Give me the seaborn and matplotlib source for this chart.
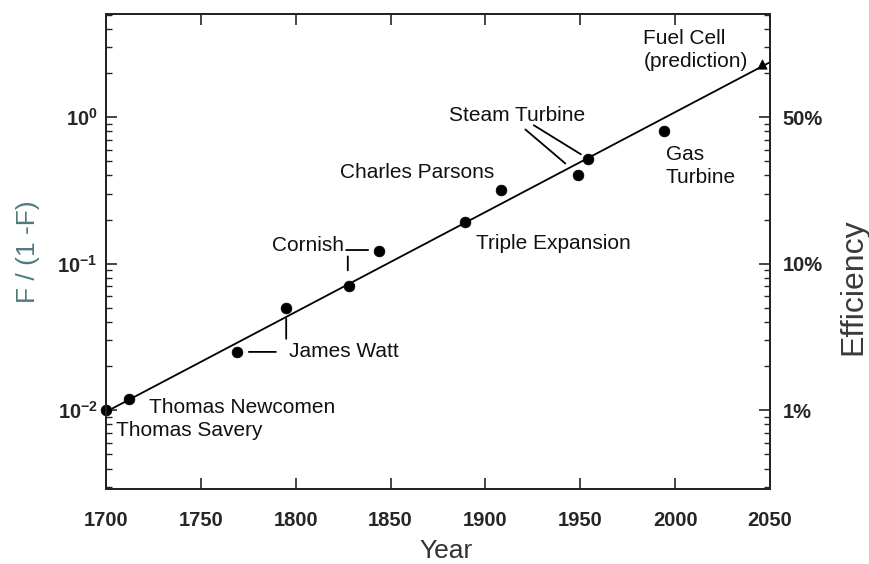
import matplotlib
matplotlib.use("Agg")
import matplotlib.pyplot as plt
import seaborn as sns
from matplotlib.transforms import offset_copy
from matplotlib.ticker import FixedLocator, LogLocator, NullFormatter

# ---------------- data ----------------
years = [1700, 1712, 1769, 1795, 1828, 1844, 1889, 1908, 1949, 1954, 1994]
ratio = [0.010, 0.012, 0.025, 0.050, 0.070, 0.122, 0.192, 0.318, 0.40, 0.516, 0.80]
pred_year = [2046]
pred_ratio = [2.30]
trend_years = [1703.5, 2050]
trend_ratio = [0.0103, 2.37]
x_ticks = [1700, 1750, 1800, 1850, 1900, 1950, 2000, 2050]
y_ticks = [0.01, 0.1, 1.0]
eff_ticks = [0.01, 0.1, 1.0]
eff_labels = ["1%", "10%", "50%"]

# ---------------- style ----------------
sns.set_style("ticks")
plt.rcParams["font.family"] = ["Liberation Sans", "DejaVu Sans"]
plt.rcParams["mathtext.fontset"] = "custom"
plt.rcParams["mathtext.rm"] = "Liberation Sans:bold"
plt.rcParams["mathtext.default"] = "rm"

fig = plt.figure(figsize=(8.7, 5.64), dpi=100)
fig.patch.set_facecolor("white")
ax = fig.add_axes([0.1218, 0.133, 0.7632, 0.842])

sns.lineplot(x=trend_years, y=trend_ratio, ax=ax, color="black", lw=1.3)
sns.scatterplot(x=years, y=ratio, ax=ax, color="black", s=60, edgecolor="black",
                linewidth=0.5, zorder=5, clip_on=False)
sns.scatterplot(x=pred_year, y=pred_ratio, ax=ax, color="black", marker="^", s=45,
                edgecolor="black", linewidth=0.5, zorder=5, clip_on=False)

ax.set_yscale("log")
ax.set_xlim(1700, 2050)
ax.set_ylim(0.0029, 5.05)
ax.set_xticks(x_ticks)
ax.yaxis.set_major_locator(FixedLocator(y_ticks))
ax.yaxis.set_minor_locator(LogLocator(base=10, subs=range(2, 10)))
ax.yaxis.set_minor_formatter(NullFormatter())

ax.tick_params(axis="x", which="major", direction="in", top=True, length=8, width=1.2,
               labelsize=14.5, pad=16)
ax.tick_params(axis="y", which="major", direction="in", right=False, length=8, width=1.2,
               labelsize=14.5, pad=6)
ax.tick_params(axis="y", which="minor", direction="in", right=False, length=4, width=1.0)
for lab in ax.get_xticklabels() + ax.get_yticklabels():
    lab.set_fontweight("bold")
for sp in ax.spines.values():
    sp.set_linewidth(1.3)
    sp.set_color("black")

ax2 = ax.twinx()
ax2.set_yscale("log")
ax2.set_ylim(0.0029, 5.05)
ax2.yaxis.set_major_locator(FixedLocator(eff_ticks))
ax2.set_yticklabels(eff_labels)
ax2.yaxis.set_minor_locator(LogLocator(base=10, subs=range(2, 10)))
ax2.yaxis.set_minor_formatter(NullFormatter())
ax2.tick_params(axis="y", which="major", direction="in", length=8, width=1.2, labelsize=14.5, pad=9)
ax2.tick_params(axis="y", which="minor", direction="in", length=4, width=1.0)
for lab in ax2.get_yticklabels():
    lab.set_fontweight("bold")
for sp in ax2.spines.values():
    sp.set_linewidth(1.3)

ax.set_xlabel("Year", fontsize=19, color="#333333")
ax.xaxis.set_label_coords(0.512, -0.105)
ax.set_ylabel("F / (1 -F)", fontsize=19, color="#4e7a80")
ax.yaxis.set_label_coords(-0.099, 0.5)
ax2.set_ylabel("Efficiency", fontsize=23, color="#3a3a3a")
ax2.yaxis.set_label_coords(1.103, 0.425)

# ---------------- annotations ----------------
FS = 15
def label(x, y, text, dx, dy, ha):
    ax.annotate(text, xy=(x, y), xytext=(dx, dy), textcoords="offset pixels",
                ha=ha, va="center", fontsize=FS, color="#111111", linespacing=1.25)

def leader(i, p0, p1):
    base = offset_copy(ax.transData, fig=fig, x=p0[0], y=p0[1], units="dots")
    ax.annotate("", xy=(years[i], ratio[i]), xycoords=base,
                xytext=(p1[0] - p0[0], p1[1] - p0[1]), textcoords="offset pixels",
                arrowprops=dict(arrowstyle="-", lw=1.3, color="black", shrinkA=0, shrinkB=0))

label(years[0], ratio[0], "Thomas Savery", 10, -20, "left")
label(years[1], ratio[1], "Thomas Newcomen", 20, -9, "left")
label(years[2], ratio[2], "James Watt", 52, 0, "left")
label(years[5], ratio[5], "Cornish", -35, 6, "right")
label(years[6], ratio[6], "Triple Expansion", 11, -21, "left")
label(years[7], ratio[7], "Charles Parsons", -6, 18, "right")
label(years[9], ratio[9], "Steam Turbine", -3, 44, "right")
label(years[10], ratio[10], "Gas\nTurbine", 2, -35, "left")
label(pred_year[0], pred_ratio[0], "Fuel Cell\n(prediction)", -119, 14, "left")

leader(2, (12, 0), (39, 0))
leader(3, (0, -11), (0, -31))
leader(4, (-1, 30), (-1, 16))
leader(5, (-33, 1), (-11, 1))
leader(8, (-53, 46), (-13, 12))
leader(9, (-54, 34), (-7, 5))

fig.savefig("out.png", dpi=100, facecolor="white")
